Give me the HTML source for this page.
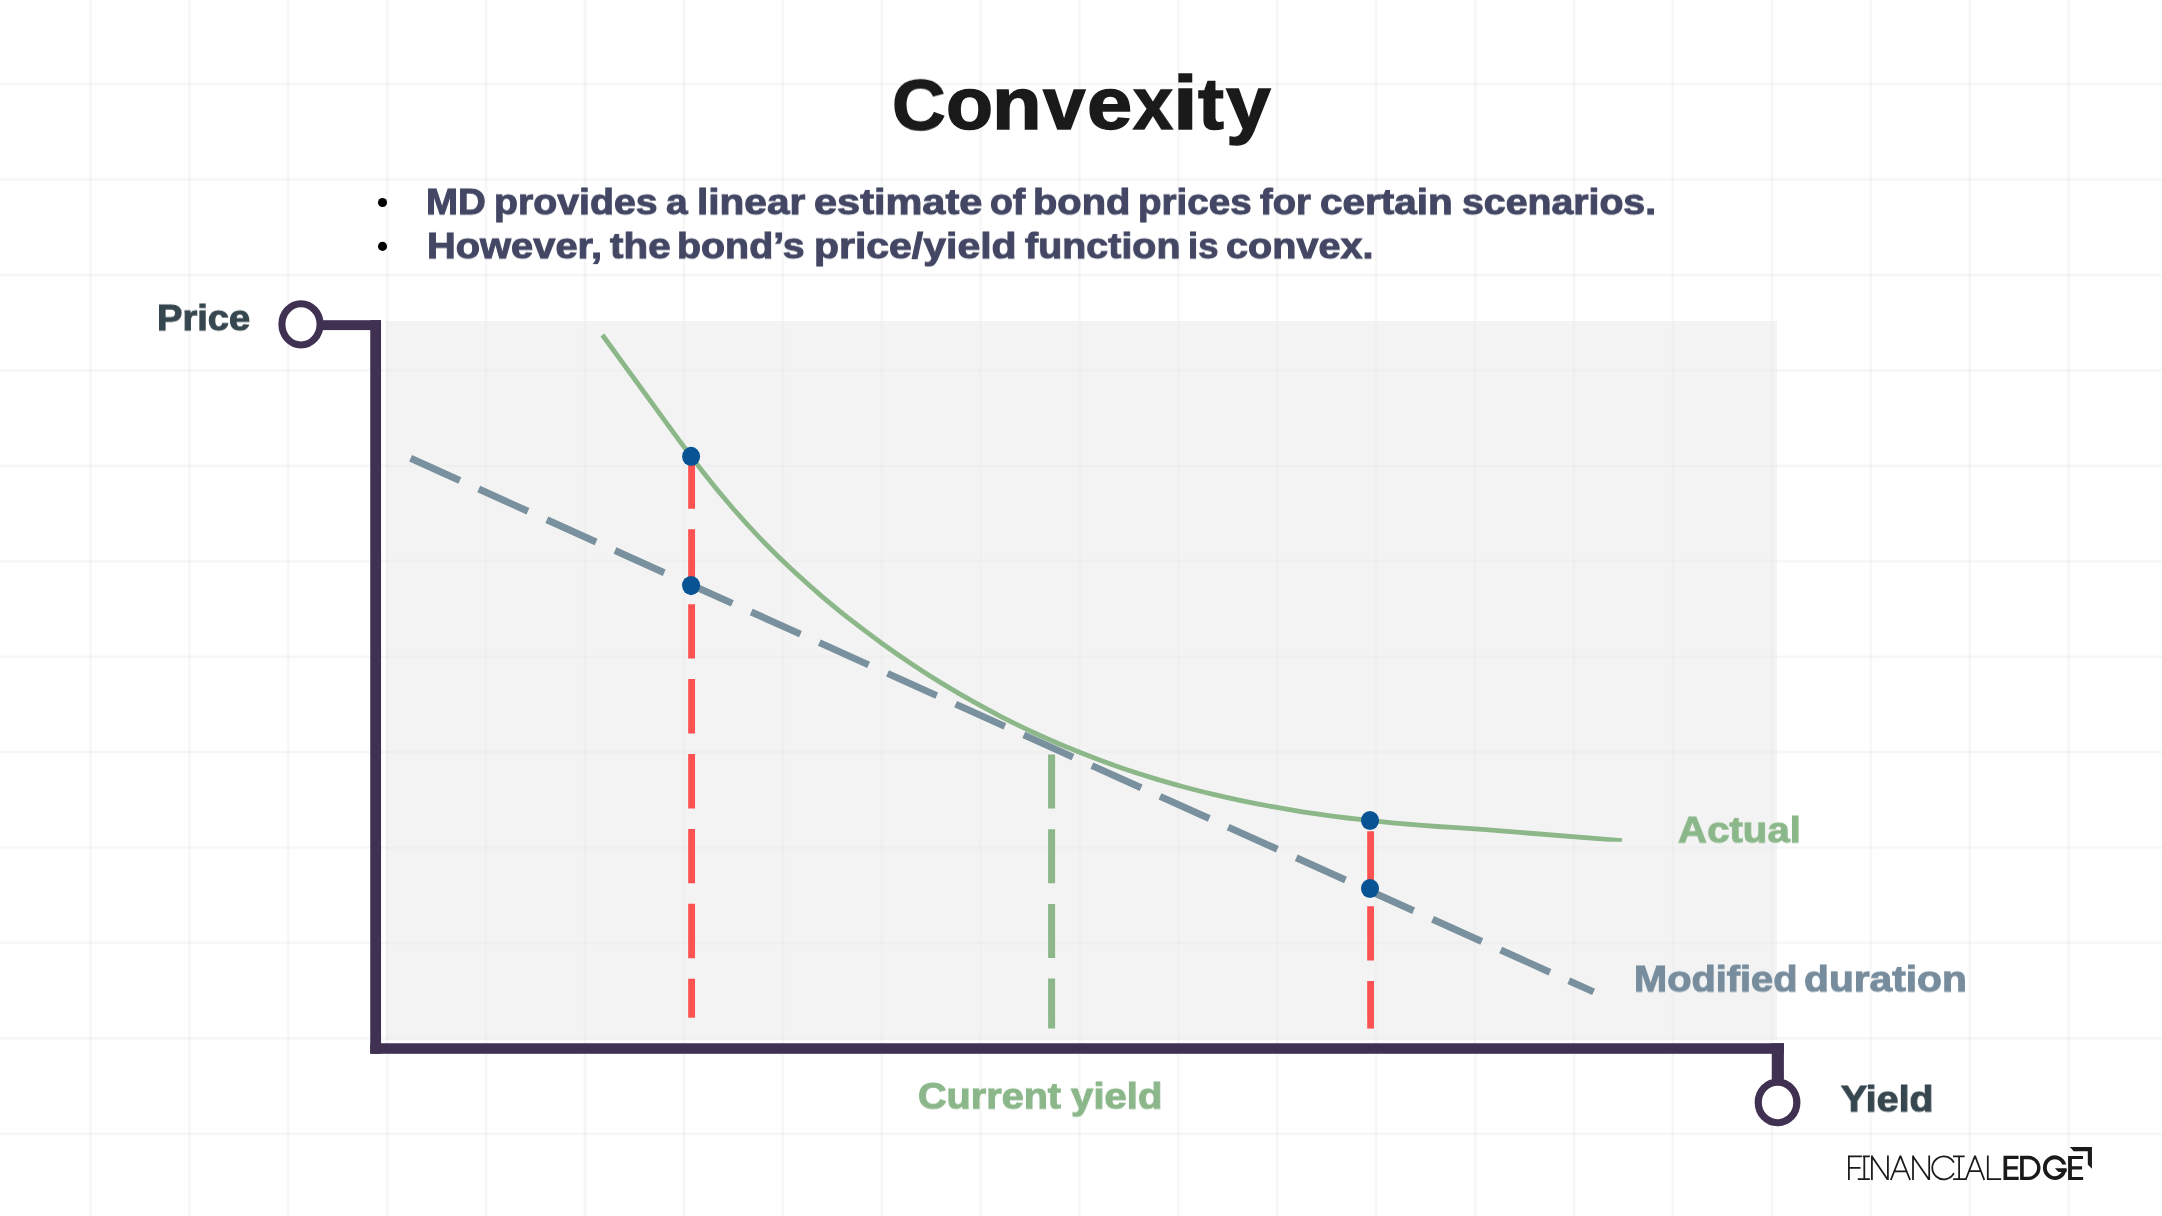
<!DOCTYPE html>
<html lang="en"><head><meta charset="utf-8"><title>Convexity</title>
<style>
html,body{margin:0;padding:0;background:#fff}
body{width:2162px;height:1216px;overflow:hidden;position:relative;font-family:"Liberation Sans",sans-serif}
svg{position:absolute;left:0;top:0;display:block}
.t{position:absolute;white-space:nowrap;font-weight:bold;line-height:1;transform-origin:0 0;will-change:transform;font-family:"Liberation Sans",sans-serif}
.h{-webkit-text-stroke:1.4px #1a1a1a}
.s{-webkit-text-stroke:1px currentColor}
</style></head><body>
<svg width="2162" height="1216" viewBox="0 0 2162 1216">
<rect x="0" y="0" width="2162" height="1216" fill="#ffffff"/>
<g fill="#000" fill-opacity="0.024"><rect x="89.50" y="0" width="2" height="1216"/><rect x="188.40" y="0" width="2" height="1216"/><rect x="287.30" y="0" width="2" height="1216"/><rect x="386.20" y="0" width="2" height="1216"/><rect x="485.10" y="0" width="2" height="1216"/><rect x="584.00" y="0" width="2" height="1216"/><rect x="682.90" y="0" width="2" height="1216"/><rect x="781.80" y="0" width="2" height="1216"/><rect x="880.70" y="0" width="2" height="1216"/><rect x="979.60" y="0" width="2" height="1216"/><rect x="1078.50" y="0" width="2" height="1216"/><rect x="1177.40" y="0" width="2" height="1216"/><rect x="1276.30" y="0" width="2" height="1216"/><rect x="1375.20" y="0" width="2" height="1216"/><rect x="1474.10" y="0" width="2" height="1216"/><rect x="1573.00" y="0" width="2" height="1216"/><rect x="1671.90" y="0" width="2" height="1216"/><rect x="1770.80" y="0" width="2" height="1216"/><rect x="1869.70" y="0" width="2" height="1216"/><rect x="1968.60" y="0" width="2" height="1216"/><rect x="2067.50" y="0" width="2" height="1216"/><rect x="0" y="83.20" width="2162" height="2"/><rect x="0" y="178.62" width="2162" height="2"/><rect x="0" y="274.04" width="2162" height="2"/><rect x="0" y="369.46" width="2162" height="2"/><rect x="0" y="464.88" width="2162" height="2"/><rect x="0" y="560.30" width="2162" height="2"/><rect x="0" y="655.72" width="2162" height="2"/><rect x="0" y="751.14" width="2162" height="2"/><rect x="0" y="846.56" width="2162" height="2"/><rect x="0" y="941.98" width="2162" height="2"/><rect x="0" y="1037.40" width="2162" height="2"/><rect x="0" y="1132.82" width="2162" height="2"/></g>
<g fill="#000" fill-opacity="0.012"><rect x="88.50" y="0" width="4" height="1216"/><rect x="187.40" y="0" width="4" height="1216"/><rect x="286.30" y="0" width="4" height="1216"/><rect x="385.20" y="0" width="4" height="1216"/><rect x="484.10" y="0" width="4" height="1216"/><rect x="583.00" y="0" width="4" height="1216"/><rect x="681.90" y="0" width="4" height="1216"/><rect x="780.80" y="0" width="4" height="1216"/><rect x="879.70" y="0" width="4" height="1216"/><rect x="978.60" y="0" width="4" height="1216"/><rect x="1077.50" y="0" width="4" height="1216"/><rect x="1176.40" y="0" width="4" height="1216"/><rect x="1275.30" y="0" width="4" height="1216"/><rect x="1374.20" y="0" width="4" height="1216"/><rect x="1473.10" y="0" width="4" height="1216"/><rect x="1572.00" y="0" width="4" height="1216"/><rect x="1670.90" y="0" width="4" height="1216"/><rect x="1769.80" y="0" width="4" height="1216"/><rect x="1868.70" y="0" width="4" height="1216"/><rect x="1967.60" y="0" width="4" height="1216"/><rect x="2066.50" y="0" width="4" height="1216"/><rect x="0" y="82.20" width="2162" height="4"/><rect x="0" y="177.62" width="2162" height="4"/><rect x="0" y="273.04" width="2162" height="4"/><rect x="0" y="368.46" width="2162" height="4"/><rect x="0" y="463.88" width="2162" height="4"/><rect x="0" y="559.30" width="2162" height="4"/><rect x="0" y="654.72" width="2162" height="4"/><rect x="0" y="750.14" width="2162" height="4"/><rect x="0" y="845.56" width="2162" height="4"/><rect x="0" y="940.98" width="2162" height="4"/><rect x="0" y="1036.40" width="2162" height="4"/><rect x="0" y="1131.82" width="2162" height="4"/></g>
<rect x="385.9" y="321" width="1391.1" height="719" fill="#e7e7e7" fill-opacity="0.5"/>
<g fill="#403052">
<rect x="320" y="320.2" width="61" height="9.9"/>
<rect x="370.25" y="320.2" width="10.8" height="733.6"/>
<rect x="370.25" y="1043.25" width="1413.65" height="10.55"/>
<rect x="1771.8" y="1043.25" width="12.1" height="40"/>
</g>
<ellipse cx="301" cy="324.35" rx="19.1" ry="20.6" fill="#fff" stroke="#403052" stroke-width="7.1"/>
<ellipse cx="1777.55" cy="1102.45" rx="19.3" ry="20.3" fill="#fff" stroke="#403052" stroke-width="7.2"/>
<line x1="1051.6" y1="754.5" x2="1051.6" y2="1028.5" stroke="#8cb789" stroke-width="7" stroke-dasharray="54 20.7"/>
<line x1="410.6" y1="458.3" x2="1593.6" y2="991.9" stroke="#79909e" stroke-width="7" stroke-dasharray="54 20.74"/>
<line x1="691.6" y1="454.4" x2="691.6" y2="1017.7" stroke="#fd5252" stroke-width="6.9" stroke-dasharray="54.4 20.5"/>
<line x1="1370.6" y1="831.3" x2="1370.6" y2="1028.6" stroke="#fd5252" stroke-width="6.8" stroke-dasharray="54.2 20.7"/>
<clipPath id="cclip"><rect x="590" y="320" width="1040" height="521.85"/></clipPath>
<path d="M602.4,335.0 L672.4,431.2 C682.4,444.9 692.4,458.3 702.4,471.2 C712.4,484.0 722.4,496.2 732.4,507.8 C742.4,519.4 752.4,530.3 762.4,540.7 C772.4,551.0 782.4,560.8 792.4,570.1 C802.4,579.4 812.4,588.3 822.4,596.8 C832.4,605.2 842.4,613.4 852.4,621.2 C862.4,629.0 872.4,636.4 882.4,643.7 C892.4,650.9 902.4,657.8 912.4,664.4 C922.4,671.1 932.4,677.5 942.4,683.6 C952.4,689.7 962.4,695.6 972.4,701.2 C982.4,706.8 992.4,712.2 1002.4,717.3 C1012.4,722.4 1022.4,727.3 1032.4,732.0 C1042.4,736.6 1052.4,741.1 1062.4,745.3 C1072.4,749.5 1082.4,753.5 1092.4,757.3 C1102.4,761.2 1112.4,764.8 1122.4,768.2 C1132.4,771.6 1142.4,774.8 1152.4,777.9 C1162.4,781.0 1172.4,783.8 1182.4,786.5 C1192.4,789.2 1202.4,791.8 1212.4,794.2 C1222.4,796.6 1232.4,798.8 1242.4,800.9 C1252.4,803.0 1262.4,804.9 1272.4,806.7 C1282.4,808.5 1292.4,810.2 1302.4,811.8 C1312.4,813.3 1322.4,814.7 1332.4,816.1 C1342.4,817.4 1352.4,818.6 1362.4,819.7 C1372.4,820.8 1382.4,821.8 1392.4,822.8 C1402.4,823.7 1412.4,824.5 1422.4,825.3 C1432.4,826.1 1442.4,826.8 1452.4,827.4 C1462.4,828.1 1472.4,828.7 1482.4,829.4 L1622.0,840.55" fill="none" stroke="#8cb789" stroke-width="4.8" clip-path="url(#cclip)"/>
<ellipse cx="691.1" cy="456.4" rx="9" ry="9.55" fill="#085394"/>
<ellipse cx="691.1" cy="585.6" rx="9" ry="9.55" fill="#085394"/>
<ellipse cx="1370.0" cy="820.5" rx="9" ry="9.55" fill="#085394"/>
<ellipse cx="1370.0" cy="888.5" rx="9" ry="9.55" fill="#085394"/>
<circle cx="382.5" cy="202.45" r="4.55" fill="#000"/><circle cx="382.5" cy="246.4" r="4.55" fill="#000"/>
<g fill="none" stroke="#1a1a1a" stroke-width="1.75" stroke-linecap="butt" stroke-linejoin="bevel">
<path d="M1848.9,1180 V1156.4 M1848,1156.4 H1861.9 M1862.8,1156.4 H1869.8 M1848.9,1167.8 H1860.5"/>
<path d="M1864.3,1156.4 V1179.2 M1857.8,1179.2 H1869.8"/>
<path d="M1871.9,1180 V1155.5 M1871.6,1156 L1887.6,1179.5 M1887.9,1180 V1155.5"/>
<path d="M1890.8,1180 L1900.4,1155.9 L1910.1,1180 M1894.4,1171.4 H1906.5"/>
<path d="M1913,1180 V1155.5 M1912.7,1156 L1928.9,1179.5 M1929.2,1180 V1155.5"/>
<path d="M1953.9,1162.6 A11.45,11.45 0 1 0 1953.9,1173.1"/>
<path d="M1959.1,1156.4 V1179.2 M1953,1156.4 H1964.7 M1953.1,1179.2 H1966.2"/>
<path d="M1965.6,1180 L1975,1155.9 L1984.3,1180 M1969.2,1171.2 H1980.8"/>
<path d="M1987.8,1155.5 V1179.15 M1986.95,1179.15 H2001.1"/>
</g>
<g fill="#1a1a1a">
<path d="M2003.5,1155.85 H2018.5 V1159.1 H2007.15 V1166.25 H2017.7 V1169.6 H2007.15 V1176.75 H2018.7 V1180 H2003.5 Z"/>
<path fill-rule="evenodd" d="M2020.1,1155.85 H2028.75 A12.08,12.08 0 0 1 2028.75,1180 H2020.1 Z M2023.75,1159.2 V1176.65 H2028.75 A8.66,8.73 0 0 0 2028.75,1159.2 Z"/>
<path d="M2068.1,1155.95 H2083 V1158.95 H2071.9 V1166.2 H2082.1 V1169.6 H2071.9 V1176.9 H2083.15 V1180 H2068.1 Z"/>
<path d="M2069.85,1147.1 H2091.95 V1168.75 L2087.8,1164.6 V1151.15 H2073.75 Z"/>
<path d="M2054.8,1168.25 H2066.65 V1172.05 H2058.5 Z"/>
</g>
<clipPath id="gclip"><path clip-rule="evenodd" d="M2030,1140 H2080 V1200 H2030 Z M2056,1164.5 H2075 V1168.25 H2056 Z"/></clipPath>
<path clip-path="url(#gclip)" d="M2064.43,1165.49 A9.9,10.4 0 1 0 2064.59,1168.74" fill="none" stroke="#1a1a1a" stroke-width="3.9"/>

</svg>
<div class="g"><div id="h0" class="t h" style="left:891.60px;top:69.61px;font-size:72px;color:#1a1a1a;transform:scale(1.0321,0.9780)">C</div><div id="h1" class="t h" style="left:945.99px;top:67.24px;font-size:72px;color:#1a1a1a;transform:scale(1.0705,1.0170)">o</div><div id="h2" class="t h" style="left:991.87px;top:67.24px;font-size:72px;color:#1a1a1a;transform:scale(1.1294,1.0170)">n</div><div id="h3" class="t h" style="left:1043.03px;top:67.24px;font-size:72px;color:#1a1a1a;transform:scale(1.0615,1.0170)">v</div><div id="h4" class="t h" style="left:1086.84px;top:67.24px;font-size:72px;color:#1a1a1a;transform:scale(1.1301,1.0170)">e</div><div id="h5" class="t h" style="left:1133.47px;top:67.24px;font-size:72px;color:#1a1a1a;transform:scale(0.9969,1.0170)">x</div><div id="h6" class="t h" style="left:1173.33px;top:63.62px;font-size:72px;color:#1a1a1a;transform:scale(1.2336,1.0600)">i</div><div id="h7" class="t h" style="left:1197.70px;top:66.54px;font-size:72px;color:#1a1a1a;transform:scale(1.0808,1.0120)">t</div><div id="h8" class="t h" style="left:1225.70px;top:65.22px;font-size:72px;color:#1a1a1a;transform:scale(1.1173,1.0500)">y</div></div>
<div class="g"><div id="a0" class="t s" style="left:426.40px;top:184.89px;font-size:36px;color:#434764;transform:scale(1.0697,0.9750)">MD</div> <div id="a1" class="t s" style="left:494.37px;top:184.89px;font-size:36px;color:#434764;transform:scale(1.0899,0.9750)">provides</div> <div id="a2" class="t s" style="left:666.09px;top:184.89px;font-size:36px;color:#434764;transform:scale(1.0819,0.9750)">a</div> <div id="a3" class="t s" style="left:697.24px;top:184.89px;font-size:36px;color:#434764;transform:scale(1.1271,0.9750)">linear</div> <div id="a4" class="t s" style="left:813.80px;top:184.89px;font-size:36px;color:#434764;transform:scale(1.1520,0.9750)">estimate</div> <div id="a5" class="t s" style="left:989.50px;top:184.89px;font-size:36px;color:#434764;transform:scale(1.0394,0.9750)">of</div> <div id="a6" class="t s" style="left:1032.89px;top:184.89px;font-size:36px;color:#434764;transform:scale(1.1065,0.9750)">bond</div> <div id="a7" class="t s" style="left:1137.71px;top:184.89px;font-size:36px;color:#434764;transform:scale(1.0713,0.9750)">prices</div> <div id="a8" class="t s" style="left:1260.25px;top:184.89px;font-size:36px;color:#434764;transform:scale(1.0583,0.9750)">for</div> <div id="a9" class="t s" style="left:1320.43px;top:184.89px;font-size:36px;color:#434764;transform:scale(1.1245,0.9750)">certain</div> <div id="a10" class="t s" style="left:1461.54px;top:184.89px;font-size:36px;color:#434764;transform:scale(1.0896,0.9750)">scenarios.</div></div>
<div class="g"><div id="b0" class="t s" style="left:427.32px;top:228.99px;font-size:36px;color:#434764;transform:scale(1.1069,0.9750)">However,</div> <div id="b1" class="t s" style="left:609.90px;top:228.99px;font-size:36px;color:#434764;transform:scale(1.1223,0.9750)">the</div> <div id="b2" class="t s" style="left:677.39px;top:228.99px;font-size:36px;color:#434764;transform:scale(1.0936,0.9750)">bond’s</div> <div id="b3" class="t s" style="left:814.13px;top:228.99px;font-size:36px;color:#434764;transform:scale(1.1373,0.9750)">price/yield</div> <div id="b4" class="t s" style="left:1025.39px;top:228.99px;font-size:36px;color:#434764;transform:scale(1.0948,0.9750)">function</div> <div id="b5" class="t s" style="left:1187.56px;top:228.99px;font-size:36px;color:#434764;transform:scale(1.0126,0.9750)">is</div> <div id="b6" class="t s" style="left:1226.31px;top:228.99px;font-size:36px;color:#434764;transform:scale(1.1000,0.9750)">convex.</div></div>
<div class="g"><div id="t4" class="t s" style="left:157.26px;top:300.75px;font-size:36px;color:#37474f;transform:scale(1.0578,0.9750)">Price</div></div>
<div class="g"><div id="t5" class="t s" style="left:1841.07px;top:1081.79px;font-size:36px;color:#37474f;transform:scale(1.0926,0.9800)">Yield</div></div>
<div class="g"><div id="t6" class="t s" style="left:1678.18px;top:813.42px;font-size:36px;color:#8bb88a;transform:scale(1.1161,0.9800)">Actual</div></div>
<div class="g"><div id="t7a" class="t s" style="left:1634.01px;top:962.36px;font-size:36px;color:#778d9e;transform:scale(1.1050,0.9800)">Modified</div> <div id="t7b" class="t s" style="left:1804.47px;top:962.36px;font-size:36px;color:#778d9e;transform:scale(1.1312,0.9800)">duration</div></div>
<div class="g"><div id="t8a" class="t s" style="left:918.08px;top:1079.45px;font-size:36px;color:#8bb78a;transform:scale(1.1003,0.9850)">Current</div> <div id="t8b" class="t s" style="left:1070.95px;top:1079.45px;font-size:36px;color:#8bb78a;transform:scale(1.1136,0.9850)">yield</div></div>
</body></html>
